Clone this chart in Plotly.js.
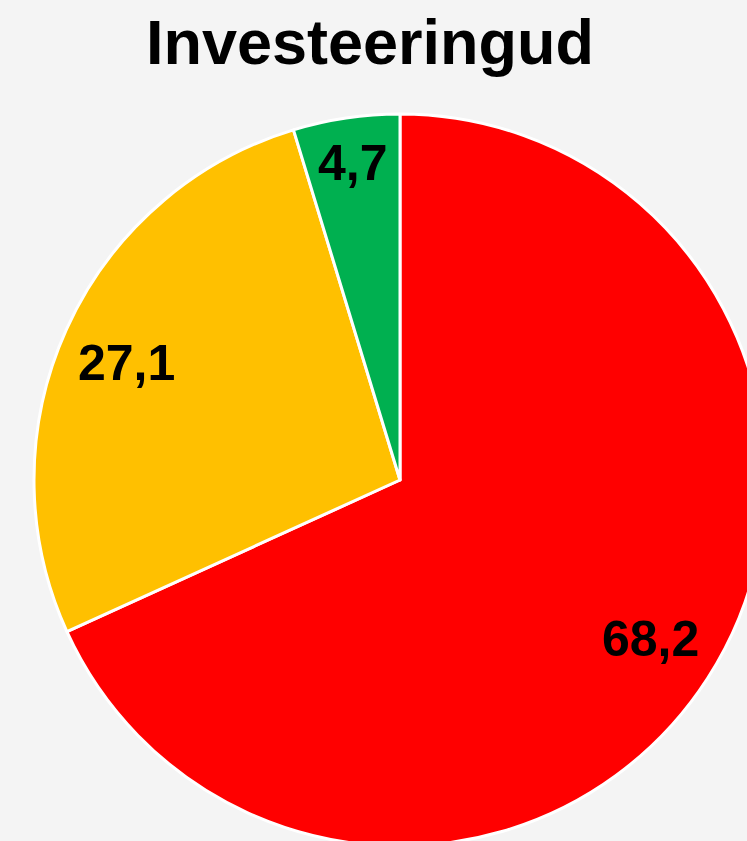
<!DOCTYPE html>
<html>
<head>
<meta charset="utf-8">
<script src="https://cdn.plot.ly/plotly-3.0.1.min.js"></script>
<style>
html, body { margin: 0; padding: 0; overflow: hidden; background: #f4f4f4; }
#chart { position: absolute; left: 0; top: 0; }
</style>
</head>
<body>
<div id="chart"></div>
<script>
// Data
const chartTitle = "Investeeringud";
const categories = ["Punane", "Kollane", "Roheline"];
const values = [68.2, 27.1, 4.7];

// Styles
const colors = ["#ff0000", "#ffc000", "#00b050"];
const labelRadius = [0.815, 0.82, 0.87];
const labelYShift = [2, -7, 2];
const W = 780, H = 860;
const L = 34, T = 114, S = 732;

const total = values.reduce((a, b) => a + b, 0);
let cum = 0;
const annotations = values.map((v, i) => {
  const mid = (cum + v / 2) / total * 2 * Math.PI;
  cum += v;
  const k = labelRadius[i];
  return {
    xref: "paper", yref: "paper",
    x: 0.5 + 0.5 * k * Math.sin(mid),
    y: 0.5 + 0.5 * k * Math.cos(mid),
    yshift: labelYShift[i],
    xanchor: "center", yanchor: "middle",
    showarrow: false,
    text: "<b>" + v.toFixed(1).replace(".", ",") + "</b>",
    font: { family: "Liberation Sans, Arial, sans-serif", size: 50, color: "#000000" }
  };
});

const trace = {
  type: "pie",
  labels: categories,
  values: values,
  sort: false,
  direction: "clockwise",
  rotation: 0,
  textinfo: "none",
  hoverinfo: "label+value",
  marker: { colors: colors, line: { color: "#ffffff", width: 3 } },
  showlegend: false,
  domain: { x: [0, 1], y: [0, 1] }
};

const layout = {
  width: W, height: H,
  margin: { l: L, r: W - L - S, t: T, b: H - T - S, pad: 0 },
  paper_bgcolor: "#f4f4f4",
  plot_bgcolor: "#f4f4f4",
  title: {
    text: "<b>" + chartTitle + "</b>",
    xref: "container", yref: "container",
    x: 370 / W, xanchor: "center",
    y: 1 - 42 / H, yanchor: "middle",
    font: { family: "Liberation Sans, Arial, sans-serif", size: 63, color: "#000000" }
  },
  annotations: annotations,
  showlegend: false
};

Plotly.newPlot("chart", [trace], layout, { displayModeBar: false, staticPlot: true });
</script>
</body>
</html>
